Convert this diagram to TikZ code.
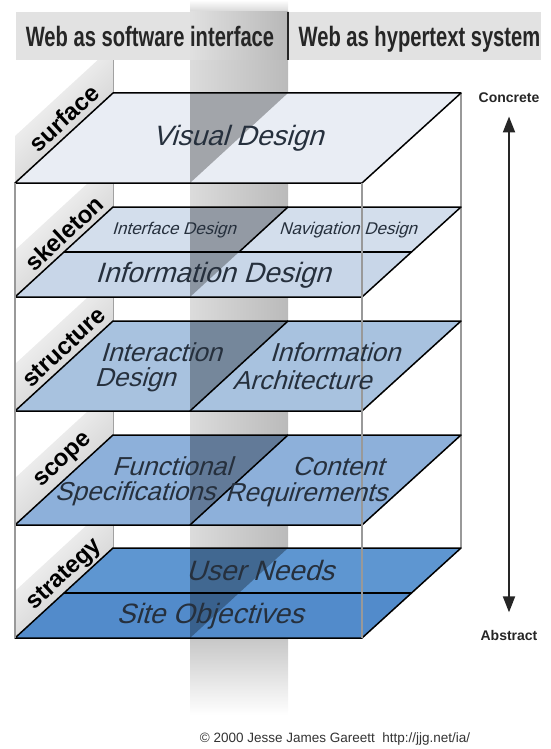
\documentclass[tikz,border=0pt]{standalone}
\usepackage{fontspec}
\setmainfont{Liberation Sans}
\newfontfamily\headfont[FakeStretch=0.72]{Liberation Sans}
\newfontfamily\planefont[FakeSlant=0.3]{Liberation Sans}
\usetikzlibrary{arrows.meta}

\definecolor{headgray}{HTML}{E2E2E2}
\definecolor{surfacefill}{HTML}{E9EDF4}
\definecolor{skeletontop}{HTML}{D3DEEC}
\definecolor{skeletonfill}{HTML}{C8D6E8}
\definecolor{structurefill}{HTML}{A8C2DF}
\definecolor{scopefill}{HTML}{8DB0DA}
\definecolor{strategytop}{HTML}{5E96D1}
\definecolor{strategyfill}{HTML}{528BCB}
\definecolor{planetext}{HTML}{26303D}

\begin{document}
\begin{tikzpicture}[x=1pt, y=-1pt,
  plane/.style={draw=black, line width=1.5pt, line join=round},
  post/.style={draw=black!40, line width=1.6pt},
  sidepanel/.style={top color=white, bottom color=black!22, shading angle=45},
  wallshadow/.style={fill=black, fill opacity=0.3},
  layername/.style={font=\bfseries\fontsize{24}{24}\selectfont, rotate=43},
  bigelem/.style={font=\planefont\fontsize{28}{28}\selectfont, text=planetext},
  elem/.style={font=\planefont\fontsize{26}{26}\selectfont, text=planetext},
  smallelem/.style={font=\planefont\fontsize{17}{17}\selectfont, text=planetext},
  headtext/.style={font=\headfont\bfseries\fontsize{28}{28}\selectfont, text=black!85, anchor=base},
  endlabel/.style={font=\bfseries\fontsize{14}{14}\selectfont, text=black!85},
  scalearrow/.style={{Triangle[length=16pt,width=12pt]}-{Triangle[length=16pt,width=12pt]}, line width=2pt, draw=black!85}]

  \useasboundingbox (0,0) rectangle (551,749);

  % shadow wall between the two halves
  \shade[top color=white, bottom color=black!16] (190,0) rectangle (288,12);
  \shade[left color=black!14, right color=black!27] (190,12) rectangle (288,638);
  \shade[top color=black!22, bottom color=white] (190,638) rectangle (288,715);

  % back posts
  \draw[post] (113,46) -- (113,548);
  \draw[post] (461,93) -- (461,548);

  % strategy
  \shade[sidepanel] (15,638) -- (113,548) -- (113,501) -- (15,591) -- cycle;
  \fill[strategytop] (113,548) -- (461,548) -- (412,593) -- (64,593) -- cycle;
  \fill[strategyfill] (64,593) -- (412,593) -- (362,638) -- (15,638) -- cycle;
  \fill[wallshadow] (190,548) -- (288,548) -- (190,638) -- cycle;
  \draw[plane] (15,638) -- (362,638) -- (461,548) -- (113,548) -- cycle;
  \draw[plane] (64,593) -- (412,593);

  % scope
  \shade[sidepanel] (15,525) -- (113,435) -- (113,388) -- (15,478) -- cycle;
  \fill[scopefill] (15,525) -- (362,525) -- (461,435) -- (113,435) -- cycle;
  \fill[wallshadow] (190,435) -- (288,435) -- (190,525) -- cycle;
  \draw[plane] (15,525) -- (362,525) -- (461,435) -- (113,435) -- cycle;
  \draw[plane] (190,525) -- (288,435);

  % structure
  \shade[sidepanel] (15,411) -- (113,321) -- (113,274) -- (15,364) -- cycle;
  \fill[structurefill] (15,411) -- (362,411) -- (461,321) -- (113,321) -- cycle;
  \fill[wallshadow] (190,321) -- (288,321) -- (190,411) -- cycle;
  \draw[plane] (15,411) -- (362,411) -- (461,321) -- (113,321) -- cycle;
  \draw[plane] (190,411) -- (288,321);

  % skeleton
  \shade[sidepanel] (15,297) -- (113,207) -- (113,160) -- (15,250) -- cycle;
  \fill[skeletontop] (113,207) -- (461,207) -- (412,252) -- (64,252) -- cycle;
  \fill[skeletonfill] (64,252) -- (412,252) -- (362,297) -- (15,297) -- cycle;
  \fill[wallshadow] (190,207) -- (288,207) -- (190,297) -- cycle;
  \draw[plane] (15,297) -- (362,297) -- (461,207) -- (113,207) -- cycle;
  \draw[plane] (64,252) -- (412,252);
  \draw[plane] (239,252) -- (288,207);

  % surface
  \shade[sidepanel] (15,183) -- (113,93) -- (113,46) -- (15,136) -- cycle;
  \fill[surfacefill] (15,183) -- (362,183) -- (461,93) -- (113,93) -- cycle;
  \fill[wallshadow] (190,93) -- (288,93) -- (190,183) -- cycle;
  \draw[plane] (15,183) -- (362,183) -- (461,93) -- (113,93) -- cycle;

  % front posts
  \draw[post] (15,183) -- (15,638);
  \draw[post] (362,183) -- (362,638);

  % header
  \fill[headgray] (16,12) rectangle (541,60);
  \shade[left color=black!12, right color=black!28] (190,12) rectangle (288,60);
  \draw[line width=1.2pt, black!85] (288,12) -- (288,60);
  \node[headtext] (software) at (150,47) {Web as software interface};
  \node[headtext] (hypertext) at (419.5,47) {Web as hypertext system};

  % names of layers
  \node[layername] (surface) at (64,118) {surface};
  \node[layername] (skeleton) at (64,233) {skeleton};
  \node[layername] (structure) at (64,347) {structure};
  \node[layername] (scope) at (64,461) {scope};
  \node[layername] (strategy) at (65,575) {strategy};

  % elements
  \node[bigelem] (visual) at (238,138) {Visual Design};
  \node[smallelem] (interface) at (174,230) {Interface Design};
  \node[smallelem] (navigation) at (348,230) {Navigation Design};
  \node[bigelem] (infodesign) at (213,275) {Information Design};
  \node[elem] (interaction) at (161,352) {Interaction};
  \node[elem] (interaction2) at (135,380) {Design};
  \node[elem] (infoarch) at (335,352) {Information};
  \node[elem] (infoarch2) at (302,380) {Architecture};
  \node[elem] (functional) at (172,466) {Functional};
  \node[elem] (functional2) at (135,494) {Specifications};
  \node[elem] (content) at (338,467) {Content};
  \node[elem] (content2) at (306,495) {Requirements};
  \node[bigelem] (userneeds) at (260,570) {User Needs};
  \node[bigelem] (siteobj) at (210,616) {Site Objectives};

  % concrete / abstract
  \node[endlabel] (concrete) at (509,98) {Concrete};
  \node[endlabel] (abstract) at (509,635) {Abstract};
  \draw[scalearrow, shorten <=10pt, shorten >=14pt] (concrete) -- (abstract);

  \node[font=\fontsize{13.5}{13.5}\selectfont, text=black!80] (credit) at (335,739) {© 2000 Jesse James Gareett\ \ http://jjg.net/ia/};

\end{tikzpicture}
\end{document}
